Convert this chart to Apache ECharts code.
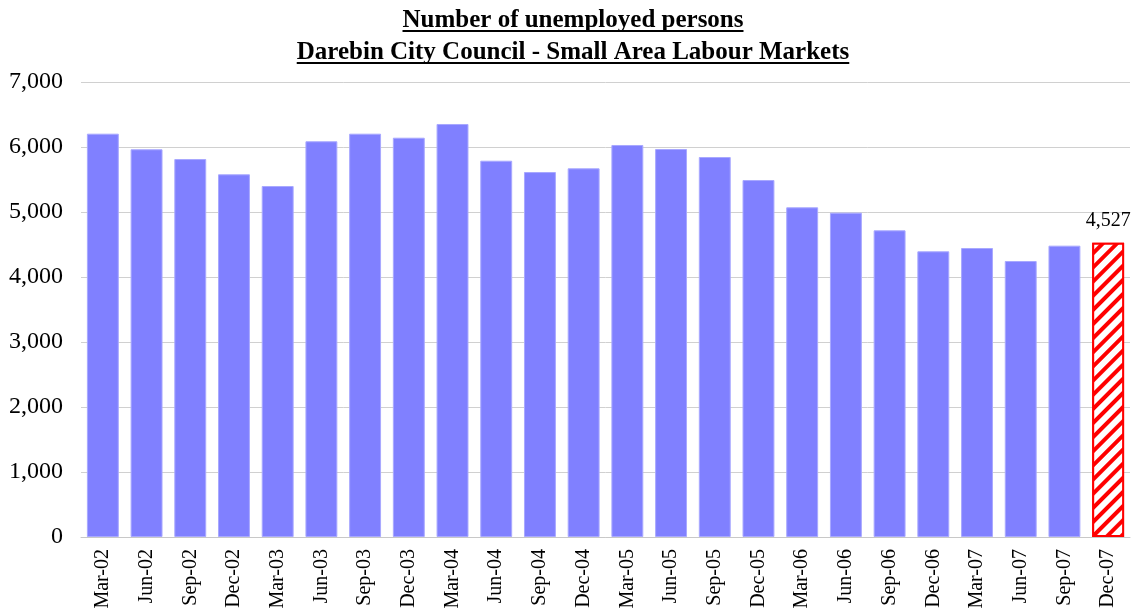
<!DOCTYPE html>
<html><head><meta charset="utf-8">
<script src="https://cdn.jsdelivr.net/npm/echarts@6/dist/echarts.min.js"></script>
<style>html,body{margin:0;padding:0;background:#fff}#c{width:1146px;height:612px}</style>
</head><body><div id="c"></div>
<script>
const categories = ['Mar-02','Jun-02','Sep-02','Dec-02','Mar-03','Jun-03','Sep-03','Dec-03','Mar-04','Jun-04','Sep-04','Dec-04','Mar-05','Jun-05','Sep-05','Dec-05','Mar-06','Jun-06','Sep-06','Dec-06','Mar-07','Jun-07','Sep-07','Dec-07'];
const values = [6205,5965,5815,5580,5400,6088,6205,6143,6354,5789,5615,5672,6031,5969,5846,5492,5072,4990,4718,4395,4446,4246,4482,4527];
const yTicks = [0,1000,2000,3000,4000,5000,6000,7000];
const titleLines = ['Number of unemployed persons','Darebin City Council - Small Area Labour Markets'];
</script>
<script>
const FONT = '"Liberation Serif", "DejaVu Serif", serif';
const TFS = 25;
const last = values.length - 1;
const fmt = v => v.toString().replace(/\B(?=(\d{3})+(?!\d))/g, ',');
const data = values.map((v, i) => i === last ? {
  value: v,
  itemStyle: {
    color: '#ffffff', borderColor: '#ff0000', borderWidth: 2,
    decal: { symbol: 'rect', color: '#ff0000', backgroundColor: '#ffffff', dashArrayX: [1, 0], dashArrayY: [4, 6], rotation: -Math.PI / 4 }
  },
  label: { show: true, position: 'top', distance: 12, formatter: p => fmt(p.value), fontFamily: FONT, fontSize: 20, color: '#000' }
} : v);
const chart = echarts.init(document.getElementById('c'), null, { renderer: 'canvas' });
chart.setOption({
  animation: false,
  backgroundColor: '#fff',
  title: [
    { text: titleLines[0], left: 'center', top: 3, textStyle: { fontFamily: FONT, fontWeight: 'bold', fontSize: TFS, color: '#000' } },
    { text: titleLines[1], left: 'center', top: 35, textStyle: { fontFamily: FONT, fontWeight: 'bold', fontSize: TFS, color: '#000' } }
  ],
  grid: { left: 81, right: 16, top: 82, bottom: 75, containLabel: false },
  xAxis: {
    type: 'category', data: categories,
    axisLine: { lineStyle: { color: '#c8c8c8', width: 1 } },
    axisTick: { show: false },
    axisLabel: { rotate: 90, fontFamily: FONT, fontSize: 20, color: '#000', margin: 12, interval: 0 }
  },
  yAxis: {
    type: 'value', min: 0, max: 7000, interval: 1000,
    axisLine: { show: false }, axisTick: { show: false },
    splitLine: { lineStyle: { color: '#d0d0d0', width: 1 } },
    axisLabel: { fontFamily: FONT, fontSize: 24, color: '#000', margin: 18, formatter: v => fmt(v) }
  },
  series: [{
    type: 'bar', data: data, barCategoryGap: '27%',
    itemStyle: { color: '#8080ff', borderColor: '#a8a8ff', borderWidth: 1 }
  }]
});
const tw = s => echarts.format.getTextRect ? echarts.format.getTextRect(s, 'bold ' + TFS + 'px ' + FONT).width : s.length * 11;
chart.setOption({ graphic: [
  { type: 'rect', left: 'center', top: 30, shape: { width: tw(titleLines[0]), height: 2 }, style: { fill: '#000' }, silent: true },
  { type: 'rect', left: 'center', top: 62, shape: { width: tw(titleLines[1]), height: 2 }, style: { fill: '#000' }, silent: true }
]});
</script>
</body></html>
